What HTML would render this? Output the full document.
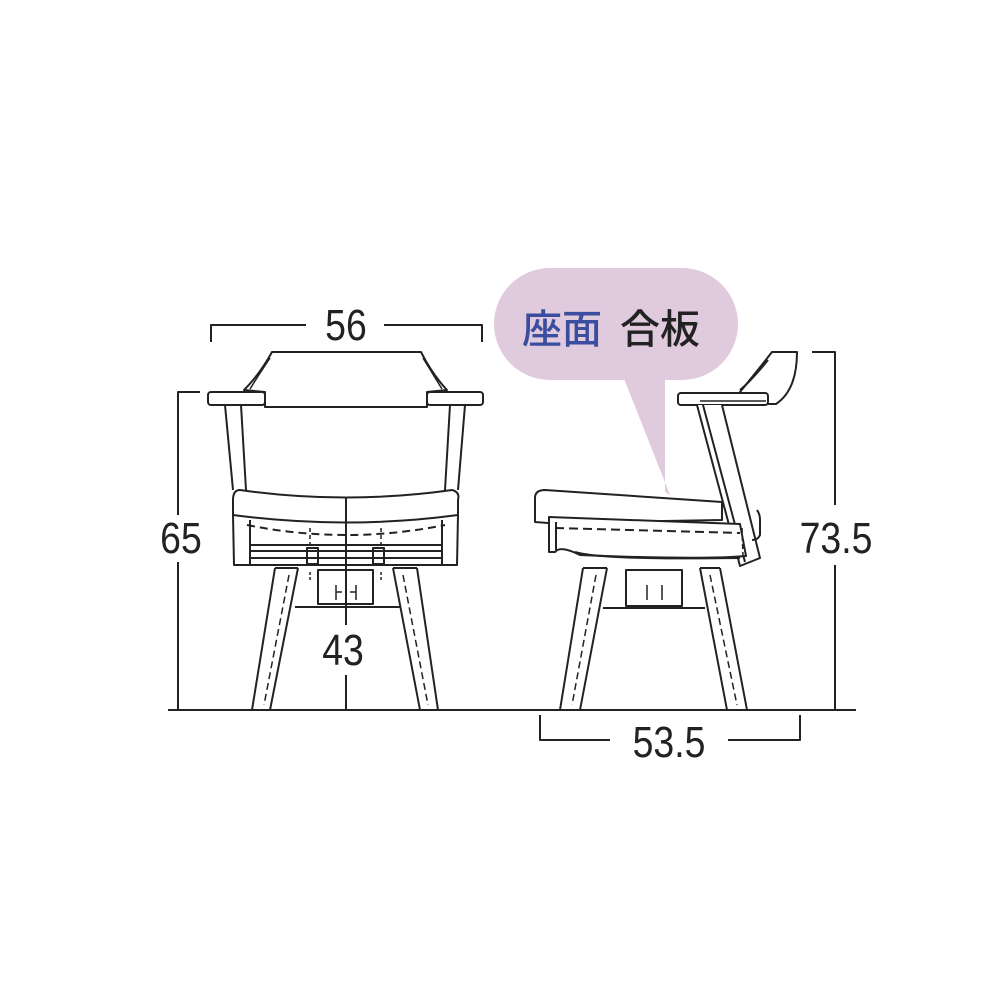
<!DOCTYPE html>
<html><head><meta charset="utf-8"><style>
html,body{margin:0;padding:0;background:#fff;}
svg{display:block;}
.n{font-family:"Liberation Sans",sans-serif;font-size:44px;fill:#222;}
</style></head><body>
<svg width="1000" height="1000" viewBox="0 0 1000 1000" xmlns="http://www.w3.org/2000/svg">
<g fill="none" stroke="#222" stroke-width="2" stroke-linejoin="round">
<!-- bubble -->
<rect x="494" y="268" width="244" height="112" rx="56" fill="#e0cadd" stroke="none"/>
<polygon points="623,376 665,376 665,492 670,495" fill="#e0cadd" stroke="none"/>

<!-- ground line -->
<line x1="168" y1="710" x2="856" y2="710"/>

<!-- FRONT CHAIR -->
<!-- backrest -->
<path d="M272,352 L421,352 Q432,374 447,390 L427,392 L427,407 L265,407 L265,392 L244,390 Q260,374 272,352 Z" fill="#fff"/>
<path d="M270,358 Q258,376 250,389 M423,358 Q434,376 442,389" stroke-width="1.5"/>
<rect x="208" y="392" width="57" height="13" rx="3" fill="#fff"/>
<rect x="427" y="392" width="56" height="13" rx="3" fill="#fff"/>
<!-- arm posts -->
<path d="M225,405 L233,490 M241,405 L246,490"/>
<path d="M465,405 L458,490 M450,405 L445,490"/>
<!-- seat cushion -->
<path d="M240,490 Q346,505 452,490 Q460,492 458,500 L458,515 Q346,530 233,515 L233,500 Q233,490 240,490 Z" fill="#fff"/>
<!-- frame -->
<path d="M233,515 L234,565 L250,565 L250,520 M458,515 L457,565 L442,565 L442,520"/>
<path d="M250,545 L442,545 M250,551 L442,551 M250,558 L442,558 M236,565 L455,565"/>
<path d="M247,525 Q346,545 445,525" stroke-dasharray="8,5"/>
<rect x="307" y="548" width="11" height="16"/>
<rect x="373" y="548" width="11" height="16"/>
<path d="M310,528 L310,547 M381,528 L381,547" stroke-dasharray="4,3" stroke-width="1.5"/>
<!-- legs -->
<path d="M275,568 L252,710 M298,568 L270,710 M275,568 L298,568"/>
<path d="M289,575 L264,705" stroke-dasharray="7,4" stroke-width="1.5"/>
<path d="M417,568 L438,710 M393,568 L420,710 M393,568 L417,568"/>
<path d="M403,575 L428,705" stroke-dasharray="7,4" stroke-width="1.5"/>
<rect x="318" y="570" width="55" height="34"/>
<line x1="295" y1="607" x2="400" y2="607"/>
<path d="M336,585 L336,600 M356,585 L356,600 M336,592 L342,592 M350,592 L356,592" stroke-width="1.5"/>
<path d="M310,572 L310,582 M381,572 L381,582" stroke-dasharray="3,2" stroke-width="1.5"/>
<!-- center line -->
<line x1="346" y1="498" x2="346" y2="625"/>
<line x1="346" y1="675" x2="346" y2="710"/>

<!-- dims front -->
<path d="M211,342 L211,325 L306,325 M384,325 L482,325 L482,342"/>
<path d="M200,392 L178,392 L178,515 M178,562 L178,710"/>

<!-- SIDE CHAIR -->
<path d="M772,352 L797,352 Q797,390 776,404 L748,404 L740,392 Q758,370 772,352 Z" fill="#fff"/>
<path d="M768,360 Q752,380 740,390"/>
<rect x="678" y="393" width="90" height="12" rx="3" fill="#fff"/>
<line x1="700" y1="401" x2="766" y2="401" stroke-width="1.5"/>
<!-- arm post -->
<path d="M697,405 L740,566 L760,558 L722,405" fill="#fff"/>
<path d="M703,405 L745,562"/>
<!-- seat -->
<path d="M545,490 L722,502 L722,520 L548,523 L535,522 L535,498 Q535,490 545,490 Z" fill="#fff"/>
<path d="M757,510 Q760,514 760,520 L760,535 Q758,540 752,540"/>
<path d="M549,517 L740,524 L746,556 Q700,560 580,555 Q560,545 555,552 L549,552 Z" fill="#fff"/>
<path d="M549,519 L549,552 M556,522 L556,550"/>
<path d="M555,528 L740,533" stroke-dasharray="9,5"/>
<path d="M742,528 L743,556" stroke-dasharray="5,3" stroke-width="1.5"/>
<path d="M575,552 Q600,560 740,558"/>
<!-- legs -->
<path d="M583,568 L560,710 M607,568 L580,710 M583,568 L607,568"/>
<path d="M596,575 L572,705" stroke-dasharray="7,4" stroke-width="1.5"/>
<path d="M700,568 L727,710 M720,568 L747,710 M700,568 L720,568"/>
<path d="M710,575 L737,705" stroke-dasharray="7,4" stroke-width="1.5"/>
<rect x="626" y="570" width="56" height="36"/>
<line x1="603" y1="608" x2="705" y2="608"/>
<path d="M647,585 L647,600 M662,585 L662,600" stroke-width="1.5"/>
<!-- dims side -->
<path d="M812,352 L835,352 L835,505 M835,565 L835,710"/>
<path d="M540,715 L540,740 L610,740 M728,740 L800,740 L800,715"/>
</g>
<g class="n">
<text x="346" y="340" text-anchor="middle" transform="translate(346 0) scale(0.85 1) translate(-346 0)">56</text>
<text x="181" y="553" text-anchor="middle" transform="translate(181 0) scale(0.85 1) translate(-181 0)">65</text>
<text x="343" y="665" text-anchor="middle" transform="translate(343 0) scale(0.85 1) translate(-343 0)">43</text>
<text x="836" y="553" text-anchor="middle" transform="translate(836 0) scale(0.85 1) translate(-836 0)">73.5</text>
<text x="669" y="757" text-anchor="middle" transform="translate(669 0) scale(0.85 1) translate(-669 0)">53.5</text>
</g>
<text x="522" y="343" font-family="'Noto Sans CJK JP',sans-serif" font-size="40" font-weight="500" fill="#3b4d9e">座面</text>
<text x="620" y="343" font-family="'Noto Sans CJK JP',sans-serif" font-size="40" font-weight="500" fill="#222">合板</text>
</svg>
</body></html>
